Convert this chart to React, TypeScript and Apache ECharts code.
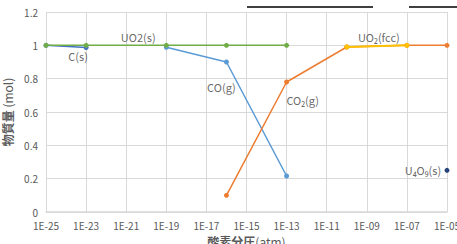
import React, { useEffect, useRef } from "react";
import * as echarts from "echarts";

// x values are log10 of oxygen partial pressure (atm)
const xTicksMin = -25;
const xTicksMax = -5;
const xTickStep = 2;

const cS_x = [-25, -23];
const cS_y = [1.0, 0.987];

const uo2s_x = [-25, -23, -19, -16, -13];
const uo2s_y = [1.0, 1.0, 1.0, 1.0, 1.0];

const co_x = [-19, -16, -13];
const co_y = [0.988, 0.9, 0.216];

const co2_x = [-16, -13, -10, -7, -5];
const co2_y = [0.1, 0.78, 0.99, 1.0, 1.0];

const uo2fcc_x = [-10, -7];
const uo2fcc_y = [0.99, 1.0];

const u4o9_x = [-5];
const u4o9_y = [0.25];

const seriesNames = ["C(s)", "UO2(s)", "CO(g)", "CO₂(g)", "UO₂(fcc)", "U₄O₉(s)"];
const labelAnchorsX = [-23.4, -20.4, -16.25, -12.2, -8.4, -6.2];
const labelAnchorsY = [0.935, 1.052, 0.753, 0.675, 1.052, 0.25];

const yMin = 0;
const yMax = 1.2;
const yStep = 0.2;

const zip = (xs: number[], ys: number[]) => xs.map((x, i) => [x, ys[i]]);

export default function App() {
  const ref = useRef<HTMLDivElement>(null);
  useEffect(() => {
    document.body.style.margin = "0";
    if (!ref.current) return;
    const chart = echarts.init(ref.current, undefined, { renderer: "svg" });
    const font = "'Noto Sans CJK JP', 'Noto Sans', sans-serif";
    const lineSeries = (name: string, xs: number[], ys: number[], color: string, width = 1.5) => ({
      name,
      type: "line",
      data: zip(xs, ys),
      symbol: "circle",
      symbolSize: 5,
      lineStyle: { color, width },
      itemStyle: { color },
      clip: false,
    });
    chart.setOption({
      animation: false,
      textStyle: { fontFamily: font },
      title: {
        text: "{a|燃料に影響を与えるのは、}{u|黒鉛の酸化反応}{s|、　}{u|炭化物の生成}",
        left: 7,
        top: -22,
        padding: 0,
        textStyle: {
          rich: {
            a: { fontSize: 20, fontWeight: "bold", color: "#000", fontFamily: font },
            u: { fontSize: 18, fontWeight: "bold", color: "#000", fontFamily: font },
            s: { fontSize: 18, fontWeight: "bold", color: "#000", fontFamily: font },
          },
        },
      },
      grid: { left: 46, right: 10, top: 12, bottom: 32, containLabel: false, outerBoundsMode: "none" },
      xAxis: {
        type: "value",
        min: xTicksMin,
        max: xTicksMax,
        interval: xTickStep,
        axisLine: { show: true, lineStyle: { color: "#d9d9d9", width: 1.5 } },
        axisTick: { show: false },
        splitLine: { show: true, lineStyle: { color: "#d9d9d9", width: 1 } },
        axisLabel: {
          color: "#595959",
          fontSize: 10,
          margin: 8,
          fontFamily: font,
          formatter: (v: number) => "1E-" + String(Math.round(-v)).padStart(2, "0"),
        },
        name: "{b|酸素分圧}{n|(atm)}",
        nameLocation: "middle",
        nameGap: 23,
        nameTextStyle: {
          rich: {
            b: { fontSize: 12, fontWeight: "bold", color: "#595959", fontFamily: font },
            n: { fontSize: 12, color: "#595959", fontFamily: font },
          },
        },
      },
      yAxis: {
        type: "value",
        min: yMin,
        max: yMax,
        interval: yStep,
        axisLine: { show: false },
        axisTick: { show: false },
        splitLine: { show: true, lineStyle: { color: "#d9d9d9", width: 1 } },
        axisLabel: {
          color: "#595959",
          fontSize: 10,
          margin: 8,
          fontFamily: font,
          formatter: (v: number) => String(parseFloat(v.toFixed(1))),
        },
        name: "{b|物質量}{n| (mol)}",
        nameLocation: "middle",
        nameGap: 26,
        nameRotate: 90,
        nameTextStyle: {
          rich: {
            b: { fontSize: 12, fontWeight: "bold", color: "#595959", fontFamily: font },
            n: { fontSize: 12, color: "#595959", fontFamily: font },
          },
        },
      },
      series: [
        lineSeries(seriesNames[0], cS_x, cS_y, "#4472c4"),
        lineSeries(seriesNames[2], co_x, co_y, "#5b9bd5"),
        lineSeries(seriesNames[1], uo2s_x, uo2s_y, "#70ad47"),
        lineSeries(seriesNames[3], co2_x, co2_y, "#ed7d31"),
        lineSeries(seriesNames[4], uo2fcc_x, uo2fcc_y, "#ffc000", 2),
        lineSeries(seriesNames[5], u4o9_x, u4o9_y, "#264478"),
        {
          type: "scatter",
          silent: true,
          symbolSize: 0,
          z: 10,
          clip: false,
          data: labelAnchorsX.map((x, i) => ({ value: [x, labelAnchorsY[i]], name: seriesNames[i] })),
          label: {
            show: true,
            position: "inside",
            formatter: (p: any) => p.name,
            color: "#404040",
            fontSize: 11,
            fontFamily: font,
          },
          markLine: {
            silent: true,
            symbol: ["none", "none"],
            label: { show: false },
            lineStyle: { color: "#000", width: 1.5, type: "solid" },
            data: [
              [{ x: 247, y: 7 }, { x: 373, y: 7 }],
              [{ x: 409, y: 7 }, { x: 457, y: 7 }],
            ],
          },
        },
      ],
    });
    return () => chart.dispose();
  }, []);
  return <div ref={ref} style={{ width: 457, height: 244 }} />;
}
